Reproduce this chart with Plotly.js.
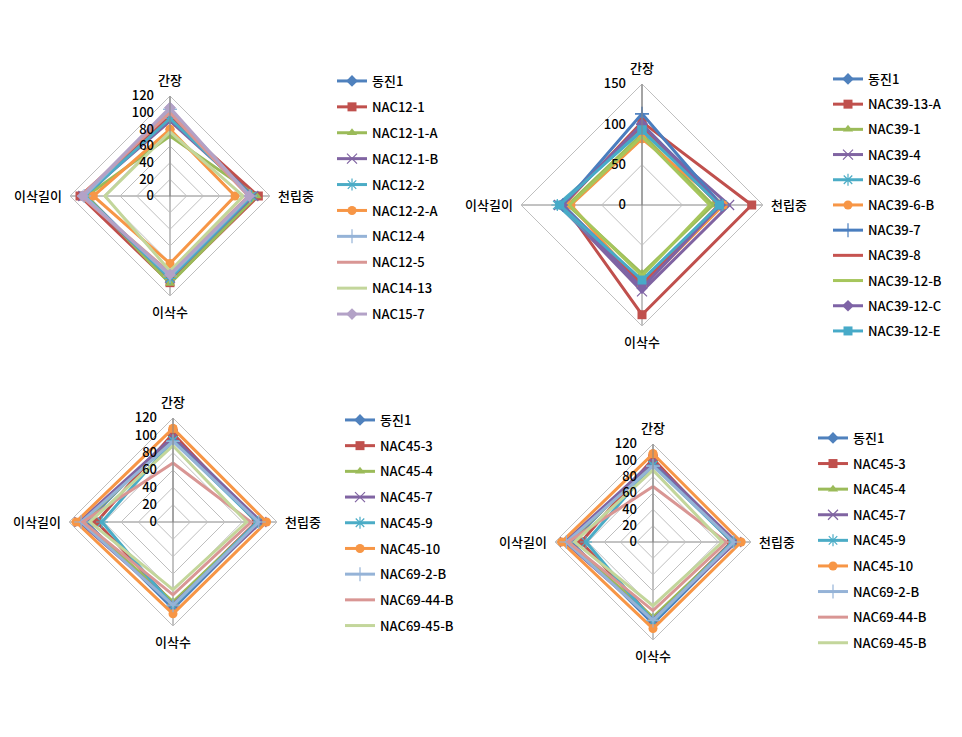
<!DOCTYPE html>
<html><head><meta charset="utf-8">
<script src="https://cdn.plot.ly/plotly-3.0.1.min.js"></script>
<style>html,body{margin:0;padding:0;background:#fff}#chart{width:962px;height:737px}</style>
</head><body><div id="chart"></div><script>
// Axis categories (clockwise from top)
const categories = ['간장', '천립중', '이삭수', '이삭길이'];

// ---- Chart 1 ----
const names1 = ['동진1','NAC12-1','NAC12-1-A','NAC12-1-B','NAC12-2','NAC12-2-A','NAC12-4','NAC12-5','NAC14-13','NAC15-7'];
const ganjang1  = [100, 95, 72, 90, 93, 80, 104, 100, 77, 106];
const cheonrip1 = [100, 106, 104, 100, 98, 78, 96, 94, 88, 95];
const isaksu1   = [100, 104, 105, 98, 99, 81, 96, 92, 90, 94];
const gil1      = [100, 108, 100, 104, 102, 92, 103, 107, 78, 105];
const ticks1 = [0, 20, 40, 60, 80, 100, 120];

// ---- Chart 2 ----
const names2 = ['동진1','NAC39-13-A','NAC39-1','NAC39-4','NAC39-6','NAC39-6-B','NAC39-7','NAC39-8','NAC39-12-B','NAC39-12-C','NAC39-12-E'];
const ganjang2  = [100, 103, 88, 95, 92, 82, 113, 98, 85, 100, 93];
const cheonrip2 = [100, 136, 88, 108, 100, 101, 98, 95, 84, 97, 96];
const isaksu2   = [100, 136, 85, 107, 95, 101, 97, 99, 88, 103, 93];
const gil2      = [100, 97, 92, 103, 105, 88, 98, 100, 90, 99, 102];
const ticks2 = [0, 50, 100, 150];

// ---- Chart 3 & 4 (same data) ----
const names3 = ['동진1','NAC45-3','NAC45-4','NAC45-7','NAC45-9','NAC45-10','NAC69-2-B','NAC69-44-B','NAC69-45-B'];
const ganjang3  = [100, 102, 95, 98, 94, 108, 93, 68, 88];
const cheonrip3 = [100, 96, 98, 102, 97, 108, 99, 90, 85];
const isaksu3   = [100, 94, 92, 95, 97, 106, 96, 84, 78];
const gil3      = [100, 88, 104, 108, 82, 112, 106, 104, 96];
const ticks3 = [0, 20, 40, 60, 80, 100, 120];

// ---- styles ----
const colors1 = ['#4F81BD','#C0504D','#9BBB59','#8064A2','#4BACC6','#F79646','#95B3D7','#D99694','#C3D69B','#B3A2C7'];
const colors2 = ['#4F81BD','#C0504D','#9BBB59','#8064A2','#4BACC6','#F79646','#4A7EBF','#C65350','#A6C65C','#7E63A6','#47AAC8'];
const colors3 = ['#4F81BD','#C0504D','#9BBB59','#8064A2','#4BACC6','#F79646','#95B3D7','#D99694','#C3D69B'];
const symbols = ['diamond','square','triangle-up','x-thin-open','asterisk-open','circle','cross-thin-open',null,null,'diamond','square'];

const W = 962, H = 737;
const FONT = '"Noto Sans CJK KR", "Noto Sans", sans-serif';
const TXT = {family: FONT, size: 13, color: '#000', weight: 500};

function traces(names, g, c, s, l, colors, polar, legend) {
  return names.map((n, i) => {
    const sym = symbols[i];
    const t = {
      type: 'scatterpolar',
      name: n,
      r: [g[i], c[i], s[i], l[i], g[i]],
      theta: categories.concat([categories[0]]),
      subplot: polar,
      legend: legend,
      legendgroup: polar + '_' + i,
      mode: sym ? 'lines+markers' : 'lines',
      line: {color: colors[i], width: 3},
      hoverinfo: 'name+r+theta'
    };
    if (sym) {
      const open = sym.indexOf('open') >= 0;
      t.marker = {symbol: sym, size: open ? 10 : 9, color: colors[i],
                  line: {color: colors[i], width: open ? 1.2 : 0}};
    }
    return t;
  });
}

function polarLayout(cx, cy, r, maxv, ticks) {
  return {
    domain: {x: [(cx - r) / W, (cx + r) / W], y: [1 - (cy + r) / H, 1 - (cy - r) / H]},
    gridshape: 'linear',
    bgcolor: 'rgba(0,0,0,0)',
    radialaxis: {
      range: [0, maxv], tickvals: ticks, angle: 90, side: 'counterclockwise',
      showline: true, linecolor: '#868686', linewidth: 1,
      gridcolor: '#BFBFBF', gridwidth: 1,
      ticks: 'outside', ticklen: 11, tickcolor: 'rgba(0,0,0,0)',
      tickfont: TXT, tickangle: 90
    },
    angularaxis: {
      type: 'category', categoryarray: categories, rotation: 90, direction: 'clockwise',
      showline: true, linecolor: '#BFBFBF', linewidth: 1,
      gridcolor: '#868686', gridwidth: 1,
      ticks: 'outside', ticklen: 5, tickcolor: 'rgba(0,0,0,0)',
      tickfont: TXT
    }
  };
}

function legendLayout(x, y, gap) {
  return {
    x: x / W, y: 1 - y / H, xanchor: 'left', yanchor: 'top',
    font: TXT,
    traceorder: 'grouped', tracegroupgap: gap,
    bgcolor: 'rgba(0,0,0,0)', itemwidth: 30
  };
}

const data = []
  .concat(traces(names1, ganjang1, cheonrip1, isaksu1, gil1, colors1, 'polar', 'legend'))
  .concat(traces(names2, ganjang2, cheonrip2, isaksu2, gil2, colors2, 'polar2', 'legend2'))
  .concat(traces(names3, ganjang3, cheonrip3, isaksu3, gil3, colors3, 'polar3', 'legend3'))
  .concat(traces(names3, ganjang3, cheonrip3, isaksu3, gil3, colors3, 'polar4', 'legend4'));

const layout = {
  width: W, height: H,
  margin: {l: 0, r: 0, t: 0, b: 0},
  paper_bgcolor: '#fff',
  showlegend: true,
  font: TXT,
  polar: polarLayout(170, 196, 100, 120, ticks1),
  polar2: polarLayout(642, 205, 121, 150, ticks2),
  polar3: polarLayout(173, 522, 104, 120, ticks3),
  polar4: polarLayout(653, 542, 98, 120, ticks3),
  legend: legendLayout(332, 66, 6),
  legend2: legendLayout(828, 64, 5.3),
  legend3: legendLayout(340, 405, 5.8),
  legend4: legendLayout(813, 423, 5.7)
};

Plotly.newPlot('chart', data, layout, {displayModeBar: false, responsive: false});
</script></body></html>
